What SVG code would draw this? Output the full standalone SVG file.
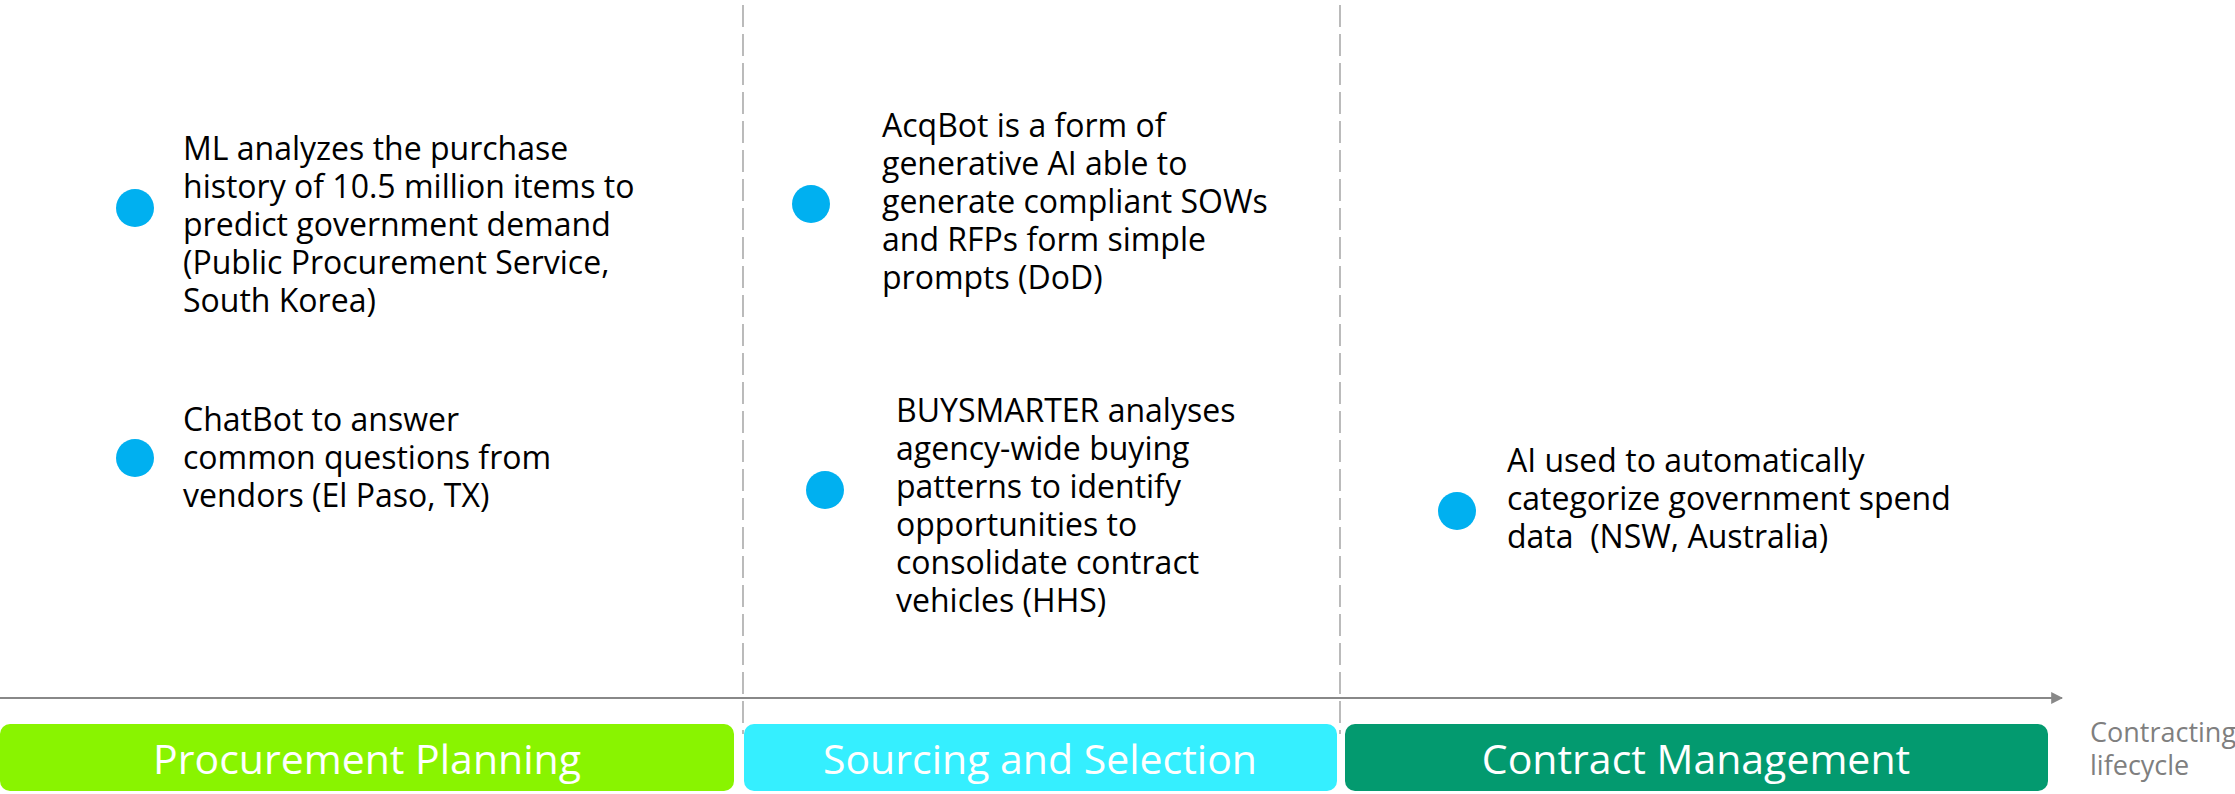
<svg xmlns="http://www.w3.org/2000/svg" width="2235" height="794" viewBox="0 0 2235 794">
  <style>
    .body { font-family: "Open Sans", "Liberation Sans", sans-serif; font-size: 32px; fill: #000000; }
    .dot { fill: #00b0f0; }
    .phase { font-family: "Open Sans", "Liberation Sans", sans-serif; font-size: 41px; fill: #ffffff; text-anchor: middle; }
    .sep { stroke: #aaaaaa; stroke-width: 1.6; stroke-dasharray: 22 7; fill: none; }
    .axis { stroke: #888888; stroke-width: 2; fill: none; }
    .axislabel { font-family: "Open Sans", "Liberation Sans", sans-serif; font-size: 27px; fill: #7f7f7f; }
  </style>
  <defs>
    <marker id="arrow" viewBox="0 0 10 10" refX="9" refY="5" markerWidth="6" markerHeight="6" orient="auto" markerUnits="strokeWidth">
      <path d="M0,0 L10,5 L0,10 z" fill="#888888"/>
    </marker>
  </defs>
  <rect width="2235" height="794" fill="#ffffff"/>

  <g id="connectors">
    <line class="sep" x1="743" y1="5" x2="743" y2="734"/>
    <line class="sep" x1="1340" y1="5" x2="1340" y2="734"/>
    <line class="axis" x1="0" y1="698" x2="2062" y2="698" marker-end="url(#arrow)"/>
  </g>

  <g id="axis-label">
    <text class="axislabel" x="2090" y="742">Contracting</text>
    <text class="axislabel" x="2090" y="775">lifecycle</text>
  </g>

  <g id="phase-procurement-planning">
    <rect x="0" y="724" width="734" height="67" rx="10" fill="#89f400"/>
    <text class="phase" x="367" y="774">Procurement Planning</text>
  </g>
  <g id="phase-sourcing-selection">
    <rect x="744" y="724" width="593" height="67" rx="10" fill="#35efff"/>
    <text class="phase" x="1040" y="774">Sourcing and Selection</text>
  </g>
  <g id="phase-contract-management">
    <rect x="1345" y="724" width="703" height="67" rx="10" fill="#039a6f"/>
    <text class="phase" x="1696" y="774">Contract Management</text>
  </g>

  <g id="item-ml-demand">
    <circle class="dot" cx="135" cy="208" r="19"/>
    <text class="body" x="183" y="160">
      <tspan x="183" y="160">ML analyzes the purchase</tspan>
      <tspan x="183" y="198">history of 10.5 million items to</tspan>
      <tspan x="183" y="236">predict government demand</tspan>
      <tspan x="183" y="274">(Public Procurement Service,</tspan>
      <tspan x="183" y="312">South Korea)</tspan>
    </text>
  </g>

  <g id="item-chatbot">
    <circle class="dot" cx="135" cy="458" r="19"/>
    <text class="body" x="183" y="431">
      <tspan x="183" y="431">ChatBot to answer</tspan>
      <tspan x="183" y="469">common questions from</tspan>
      <tspan x="183" y="507">vendors (El Paso, TX)</tspan>
    </text>
  </g>

  <g id="item-acqbot">
    <circle class="dot" cx="811" cy="204" r="19"/>
    <text class="body" x="882" y="137">
      <tspan x="882" y="137">AcqBot is a form of</tspan>
      <tspan x="882" y="175">generative AI able to</tspan>
      <tspan x="882" y="213">generate compliant SOWs</tspan>
      <tspan x="882" y="251">and RFPs form simple</tspan>
      <tspan x="882" y="289">prompts (DoD)</tspan>
    </text>
  </g>

  <g id="item-buysmarter">
    <circle class="dot" cx="825" cy="490" r="19"/>
    <text class="body" x="896" y="422">
      <tspan x="896" y="422">BUYSMARTER analyses</tspan>
      <tspan x="896" y="460">agency-wide buying</tspan>
      <tspan x="896" y="498">patterns to identify</tspan>
      <tspan x="896" y="536">opportunities to</tspan>
      <tspan x="896" y="574">consolidate contract</tspan>
      <tspan x="896" y="612">vehicles (HHS)</tspan>
    </text>
  </g>

  <g id="item-spend-data">
    <circle class="dot" cx="1457" cy="511" r="19"/>
    <text class="body" x="1507" y="472" xml:space="preserve"><tspan x="1507" y="472">AI used to automatically</tspan><tspan x="1507" y="510">categorize government spend</tspan><tspan x="1507" y="548">data  (NSW, Australia)</tspan></text>
  </g>
</svg>
